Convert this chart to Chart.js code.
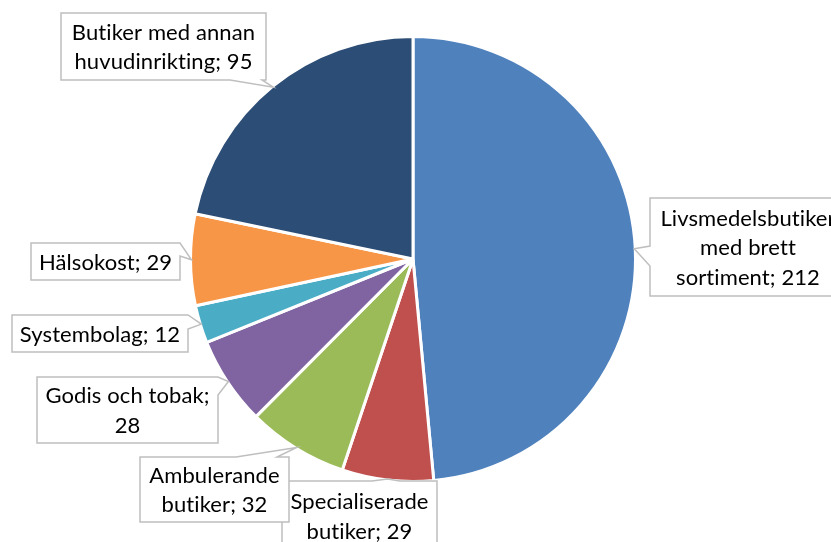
<!DOCTYPE html>
<html>
<head>
<meta charset="utf-8">
<script src="https://cdn.jsdelivr.net/npm/chart.js@4.4.1/dist/chart.umd.min.js"></script>
<style>
  html, body { margin: 0; padding: 0; background: #fff; overflow: hidden; }
</style>
</head>
<body>
<canvas id="pie" width="831" height="542"></canvas>
<script>
const categories = [
  "Livsmedelsbutiker med brett sortiment",
  "Specialiserade butiker",
  "Ambulerande butiker",
  "Godis och tobak",
  "Systembolag",
  "Hälsokost",
  "Butiker med annan huvudinrikting"
];
const values = [212, 29, 32, 28, 12, 29, 95];
const colors = ["#4F81BD", "#C0504D", "#9BBB59", "#8064A2", "#4BACC6", "#F79646", "#2C4D75"];

// label boxes (same order as categories): box, pointer side + base span, words per line
const boxes = [
  { x: 650, y: 198, w: 196, h: 98, side: "left", a: 246, b: 266, lines: [1, 2, 2] },
  { x: 282, y: 481, w: 155, h: 70, side: "top", a: 372, b: 400, lines: [1, 2] },
  { x: 140, y: 457, w: 149, h: 65, side: "top", a: 236, b: 277, lines: [1, 2] },
  { x: 37, y: 377, w: 181, h: 66, side: "right", a: 377, b: 395, lines: [3, 1] },
  { x: 12, y: 315, w: 176, h: 37, side: "right", a: 315, b: 329, lines: [2] },
  { x: 31, y: 243, w: 149, h: 37, side: "right", a: 243, b: 256, lines: [2] },
  { x: 61, y: 13, w: 205, h: 67, side: "bottom", a: 230, b: 262, lines: [3, 2] }
];

const FONT = "22px Lato, 'Open Sans', sans-serif";
const LINE_H = 29.5;

function calloutPath(ctx, bx, tip) {
  const { x, y, w, h, side, a, b } = bx;
  const r = x + w, btm = y + h;
  ctx.beginPath();
  ctx.moveTo(x, y);
  if (side === "top") { ctx.lineTo(a, y); ctx.lineTo(tip.x, tip.y); ctx.lineTo(b, y); }
  ctx.lineTo(r, y);
  if (side === "right") { ctx.lineTo(r, a); ctx.lineTo(tip.x, tip.y); ctx.lineTo(r, b); }
  ctx.lineTo(r, btm);
  if (side === "bottom") { ctx.lineTo(b, btm); ctx.lineTo(tip.x, tip.y); ctx.lineTo(a, btm); }
  ctx.lineTo(x, btm);
  if (side === "left") { ctx.lineTo(x, b); ctx.lineTo(tip.x, tip.y); ctx.lineTo(x, a); }
  ctx.closePath();
}

const calloutLabels = {
  id: "calloutLabels",
  afterDatasetsDraw(chart) {
    const ctx = chart.ctx;
    const arcs = chart.getDatasetMeta(0).data;
    ctx.save();
    arcs.forEach((arc, i) => {
      const bx = boxes[i];
      const mid = (arc.startAngle + arc.endAngle) / 2;
      const rr = arc.outerRadius - 1;
      const tip = { x: arc.x + Math.cos(mid) * rr, y: arc.y + Math.sin(mid) * rr };
      calloutPath(ctx, bx, tip);
      ctx.fillStyle = "#fff";
      ctx.fill();
      ctx.strokeStyle = "#BFBFBF";
      ctx.lineWidth = 1.5;
      ctx.stroke();

      // text, split by word counts
      const words = (categories[i] + "; " + values[i]).split(" ");
      const lines = [];
      let k = 0;
      bx.lines.forEach(n => { lines.push(words.slice(k, k + n).join(" ")); k += n; });
      ctx.font = FONT;
      ctx.letterSpacing = "0.1px"; // no "ti" ligature
      ctx.fillStyle = "#000";
      ctx.textAlign = "center";
      ctx.textBaseline = "middle";
      const cx = bx.x + bx.w / 2;
      const cy = bx.y + bx.h / 2;
      const y0 = cy - (lines.length - 1) * LINE_H / 2;
      lines.forEach((ln, j) => ctx.fillText(ln, cx, y0 + j * LINE_H + 1));
    });
    ctx.restore();
  }
};

new Chart(document.getElementById("pie"), {
  type: "pie",
  data: {
    labels: categories,
    datasets: [{
      data: values,
      backgroundColor: colors,
      borderColor: "#fff",
      borderWidth: 3
    }]
  },
  options: {
    responsive: false,
    animation: false,
    layout: { padding: { top: 35, bottom: 59, left: 189, right: 194 } },
    plugins: { legend: { display: false }, tooltip: { enabled: false } }
  },
  plugins: [calloutLabels]
});
</script>
</body>
</html>
